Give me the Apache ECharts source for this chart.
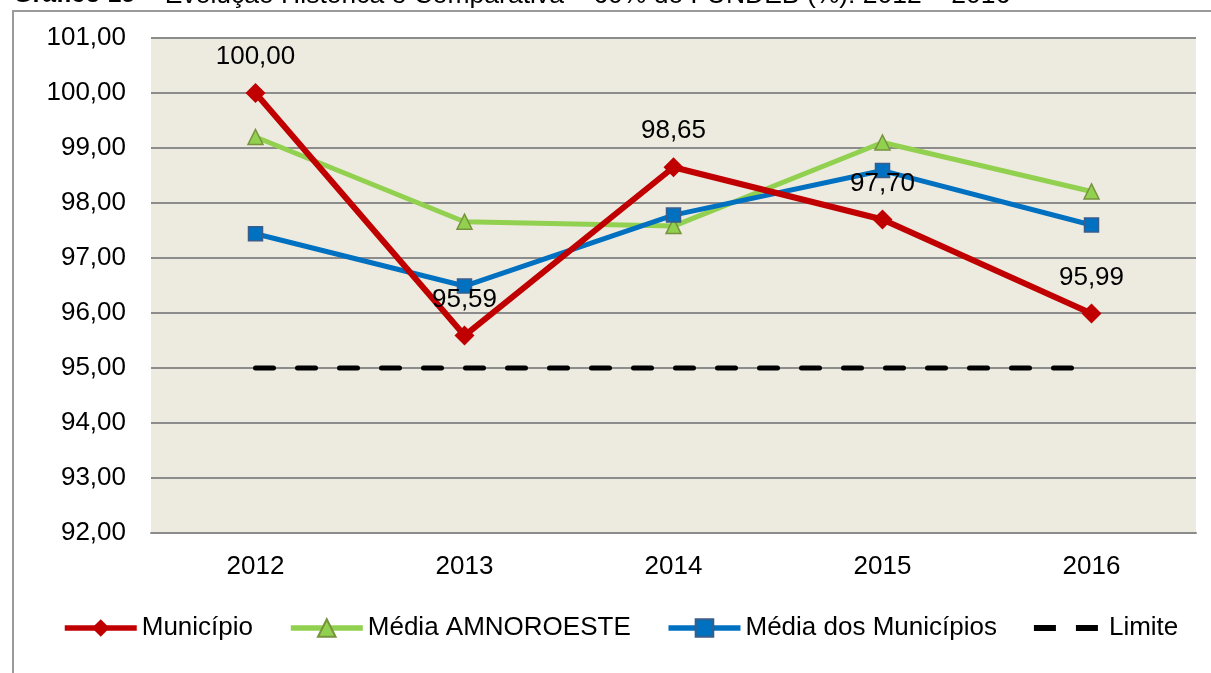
<!DOCTYPE html>
<html>
<head>
<meta charset="utf-8">
<script src="https://cdn.jsdelivr.net/npm/echarts@6/dist/echarts.min.js"></script>
<style>
html,body{margin:0;padding:0;background:#fff;}
#frame{position:absolute;left:12px;top:10px;width:1300px;height:800px;border:2px solid #9a9a9a;box-sizing:border-box;}
#chart{position:absolute;left:0;top:0;width:1211px;height:673px;}
</style>
</head>
<body>
<div id="frame"></div>
<div id="chart"></div>
<script>
const categories = ['2012', '2013', '2014', '2015', '2016'];
const municipio = [100.00, 95.59, 98.65, 97.70, 95.99];
const mediaAmnoroeste = [99.20, 97.66, 97.58, 99.10, 98.21];
const mediaMunicipios = [97.44, 96.49, 97.78, 98.59, 97.60];
const limite = [95, 95, 95, 95, 95];
const yTicks = { min: 92, max: 101, interval: 1 };

const chart = echarts.init(document.getElementById('chart'), null, { renderer: 'canvas' });
const font = 'Arial, "Liberation Sans", sans-serif';
const fs = 26;
const fmt = v => v.toFixed(2).replace('.', ',');

chart.setOption({
  backgroundColor: 'transparent',
  animation: false,
  title: {
    text: '{b|Gráfico 15} – Evolução Histórica e Comparativa – 60% do FUNDEB (%): 2012 – 2016',
    left: 13,
    top: -18,
    padding: 0,
    textStyle: {
      fontFamily: font, fontSize: 26.5, fontWeight: 'normal', color: '#000',
      rich: { b: { fontFamily: font, fontSize: 25, fontWeight: 'bold', color: '#000' } }
    }
  },
  grid: { left: 151, right: 15, top: 38, bottom: 140, show: true, backgroundColor: '#EDEAE0', borderWidth: 0 },
  legend: {
    top: 615,
    left: 62,
    itemWidth: 72,
    itemHeight: 22,
    itemGap: 35,
    padding: 0,
    lineStyle: { width: 5.5 },
    textStyle: { fontFamily: font, fontSize: fs, color: '#000' },
    data: [
      { name: 'Município' },
      { name: 'Média AMNOROESTE' },
      { name: 'Média dos Municípios' },
      { name: 'Limite', icon: 'path://M0,0 M72,22 M2,8 L24,8 L24,14 L2,14 Z M44,8 L66,8 L66,14 L44,14 Z' }
    ]
  },
  xAxis: {
    type: 'category',
    data: categories,
    boundaryGap: true,
    axisLine: { show: true, lineStyle: { color: '#8C8C8C', width: 2 } },
    axisTick: { show: false },
    axisLabel: { fontFamily: font, fontSize: fs, color: '#000', margin: 21 }
  },
  yAxis: {
    type: 'value',
    min: yTicks.min, max: yTicks.max, interval: yTicks.interval,
    axisLine: { show: false },
    axisTick: { show: false },
    splitLine: { lineStyle: { color: '#8C8C8C', width: 2 } },
    axisLabel: { fontFamily: font, fontSize: fs, color: '#000', margin: 25, formatter: v => fmt(v) }
  },
  series: [
    {
      name: 'Limite', type: 'line', data: limite, z: 2,
      symbol: 'none',
      lineStyle: { color: '#000', width: 5, type: [18, 24], cap: 'round' },
      itemStyle: { color: '#000' }
    },
    {
      name: 'Média AMNOROESTE', type: 'line', data: mediaAmnoroeste, z: 3,
      symbol: 'triangle', symbolSize: 15,
      lineStyle: { color: '#92D050', width: 5 },
      itemStyle: { color: '#92D050', borderColor: '#77933C', borderWidth: 1.5 }
    },
    {
      name: 'Média dos Municípios', type: 'line', data: mediaMunicipios, z: 4,
      symbol: 'rect', symbolSize: 14,
      lineStyle: { color: '#0070C0', width: 5 },
      itemStyle: { color: '#0070C0', borderColor: '#385D8A', borderWidth: 1.5 }
    },
    {
      name: 'Município', type: 'line', data: municipio, z: 5,
      symbol: 'diamond', symbolSize: 20,
      lineStyle: { color: '#C00000', width: 6 },
      itemStyle: { color: '#C00000' },
      label: { show: true, position: 'top', distance: 13, fontFamily: font, fontSize: fs, color: '#000', formatter: p => fmt(p.value) }
    }
  ]
});
</script>
</body>
</html>
